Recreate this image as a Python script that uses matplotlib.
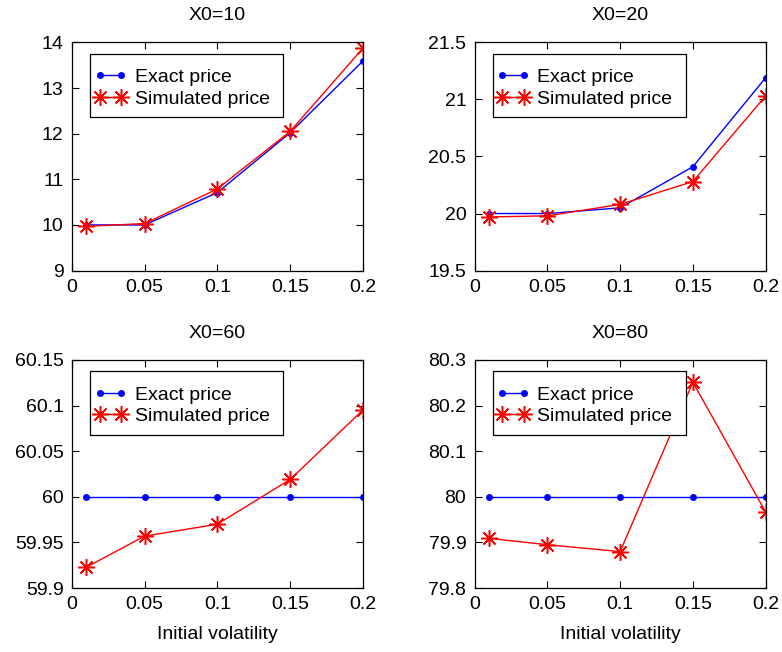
import matplotlib
matplotlib.use("Agg")
import matplotlib.pyplot as plt
from matplotlib.patches import Rectangle

plt.rcParams['font.family'] = ['Liberation Sans', 'DejaVu Sans']

vol = [0.01, 0.05, 0.1, 0.15, 0.2]
x_ticks = [0, 0.05, 0.1, 0.15, 0.2]
x_tick_labels = ["0", "0.05", "0.1", "0.15", "0.2"]

titles = ["X0=10", "X0=20", "X0=60", "X0=80"]

exact_10 = [10.0, 10.0, 10.71, 12.02, 13.59]
sim_10 = [9.97, 10.03, 10.79, 12.05, 13.87]
exact_20 = [20.0, 20.0, 20.05, 20.41, 21.19]
sim_20 = [19.97, 19.98, 20.08, 20.28, 21.03]
exact_60 = [60.0, 60.0, 60.0, 60.0, 60.0]
sim_60 = [59.923, 59.957, 59.970, 60.019, 60.095]
exact_80 = [80.0, 80.0, 80.0, 80.0, 80.0]
sim_80 = [79.909, 79.895, 79.880, 80.251, 79.967]

yticks_10 = [9, 10, 11, 12, 13, 14]
ylabels_10 = ["9", "10", "11", "12", "13", "14"]
yticks_20 = [19.5, 20, 20.5, 21, 21.5]
ylabels_20 = ["19.5", "20", "20.5", "21", "21.5"]
yticks_60 = [59.9, 59.95, 60, 60.05, 60.1, 60.15]
ylabels_60 = ["59.9", "59.95", "60", "60.05", "60.1", "60.15"]
yticks_80 = [79.8, 79.9, 80, 80.1, 80.2, 80.3]
ylabels_80 = ["79.8", "79.9", "80", "80.1", "80.2", "80.3"]

exact_all = [exact_10, exact_20, exact_60, exact_80]
sim_all = [sim_10, sim_20, sim_60, sim_80]
yticks_all = [yticks_10, yticks_20, yticks_60, yticks_80]
ylabels_all = [ylabels_10, ylabels_20, ylabels_60, ylabels_80]

fig = plt.figure(figsize=(7.82, 6.52), dpi=100)
positions = [
    [0.092, 0.585, 0.372, 0.350],
    [0.607, 0.585, 0.372, 0.350],
    [0.092, 0.098, 0.372, 0.350],
    [0.607, 0.098, 0.372, 0.350],
]
fs = 14
asterisk = (8, 2, 0)
for i in range(4):
    ax = fig.add_axes(positions[i])
    ax.plot(vol, exact_all[i], color='blue', marker='.', markersize=8,
            linewidth=1, label='Exact price')
    ax.plot(vol, sim_all[i], color='red', marker=asterisk, markersize=12,
            linewidth=1, label='Simulated price', markeredgewidth=1.1)
    ax.set_xlim(0, 0.2)
    ax.set_ylim(yticks_all[i][0], yticks_all[i][-1])
    ax.set_xticks(x_ticks)
    ax.set_xticklabels(x_tick_labels)
    ax.set_yticks(yticks_all[i])
    ax.set_yticklabels(ylabels_all[i])
    ax.tick_params(direction='in', top=True, right=True, labelsize=fs,
                   length=5, width=0.8, pad=6)
    for s in ax.spines.values():
        s.set_linewidth(0.9)
    ax.set_title(titles[i], fontsize=fs, pad=16)
    if i >= 2:
        ax.set_xlabel("Initial volatility", fontsize=fs, labelpad=9)
    box = Rectangle((0.062, 0.671), 0.663, 0.279, transform=ax.transAxes,
                    facecolor='white', edgecolor='black', linewidth=0.9,
                    zorder=4.5)
    ax.add_patch(box)
    leg = ax.legend(loc='upper left', bbox_to_anchor=(0.075, 0.885),
                    fontsize=fs, numpoints=2, handlelength=1.7,
                    handletextpad=0.4, borderpad=0.0, labelspacing=0.2,
                    frameon=False, borderaxespad=0)
    leg.set_zorder(5)

fig.savefig("out.png", dpi=100)
